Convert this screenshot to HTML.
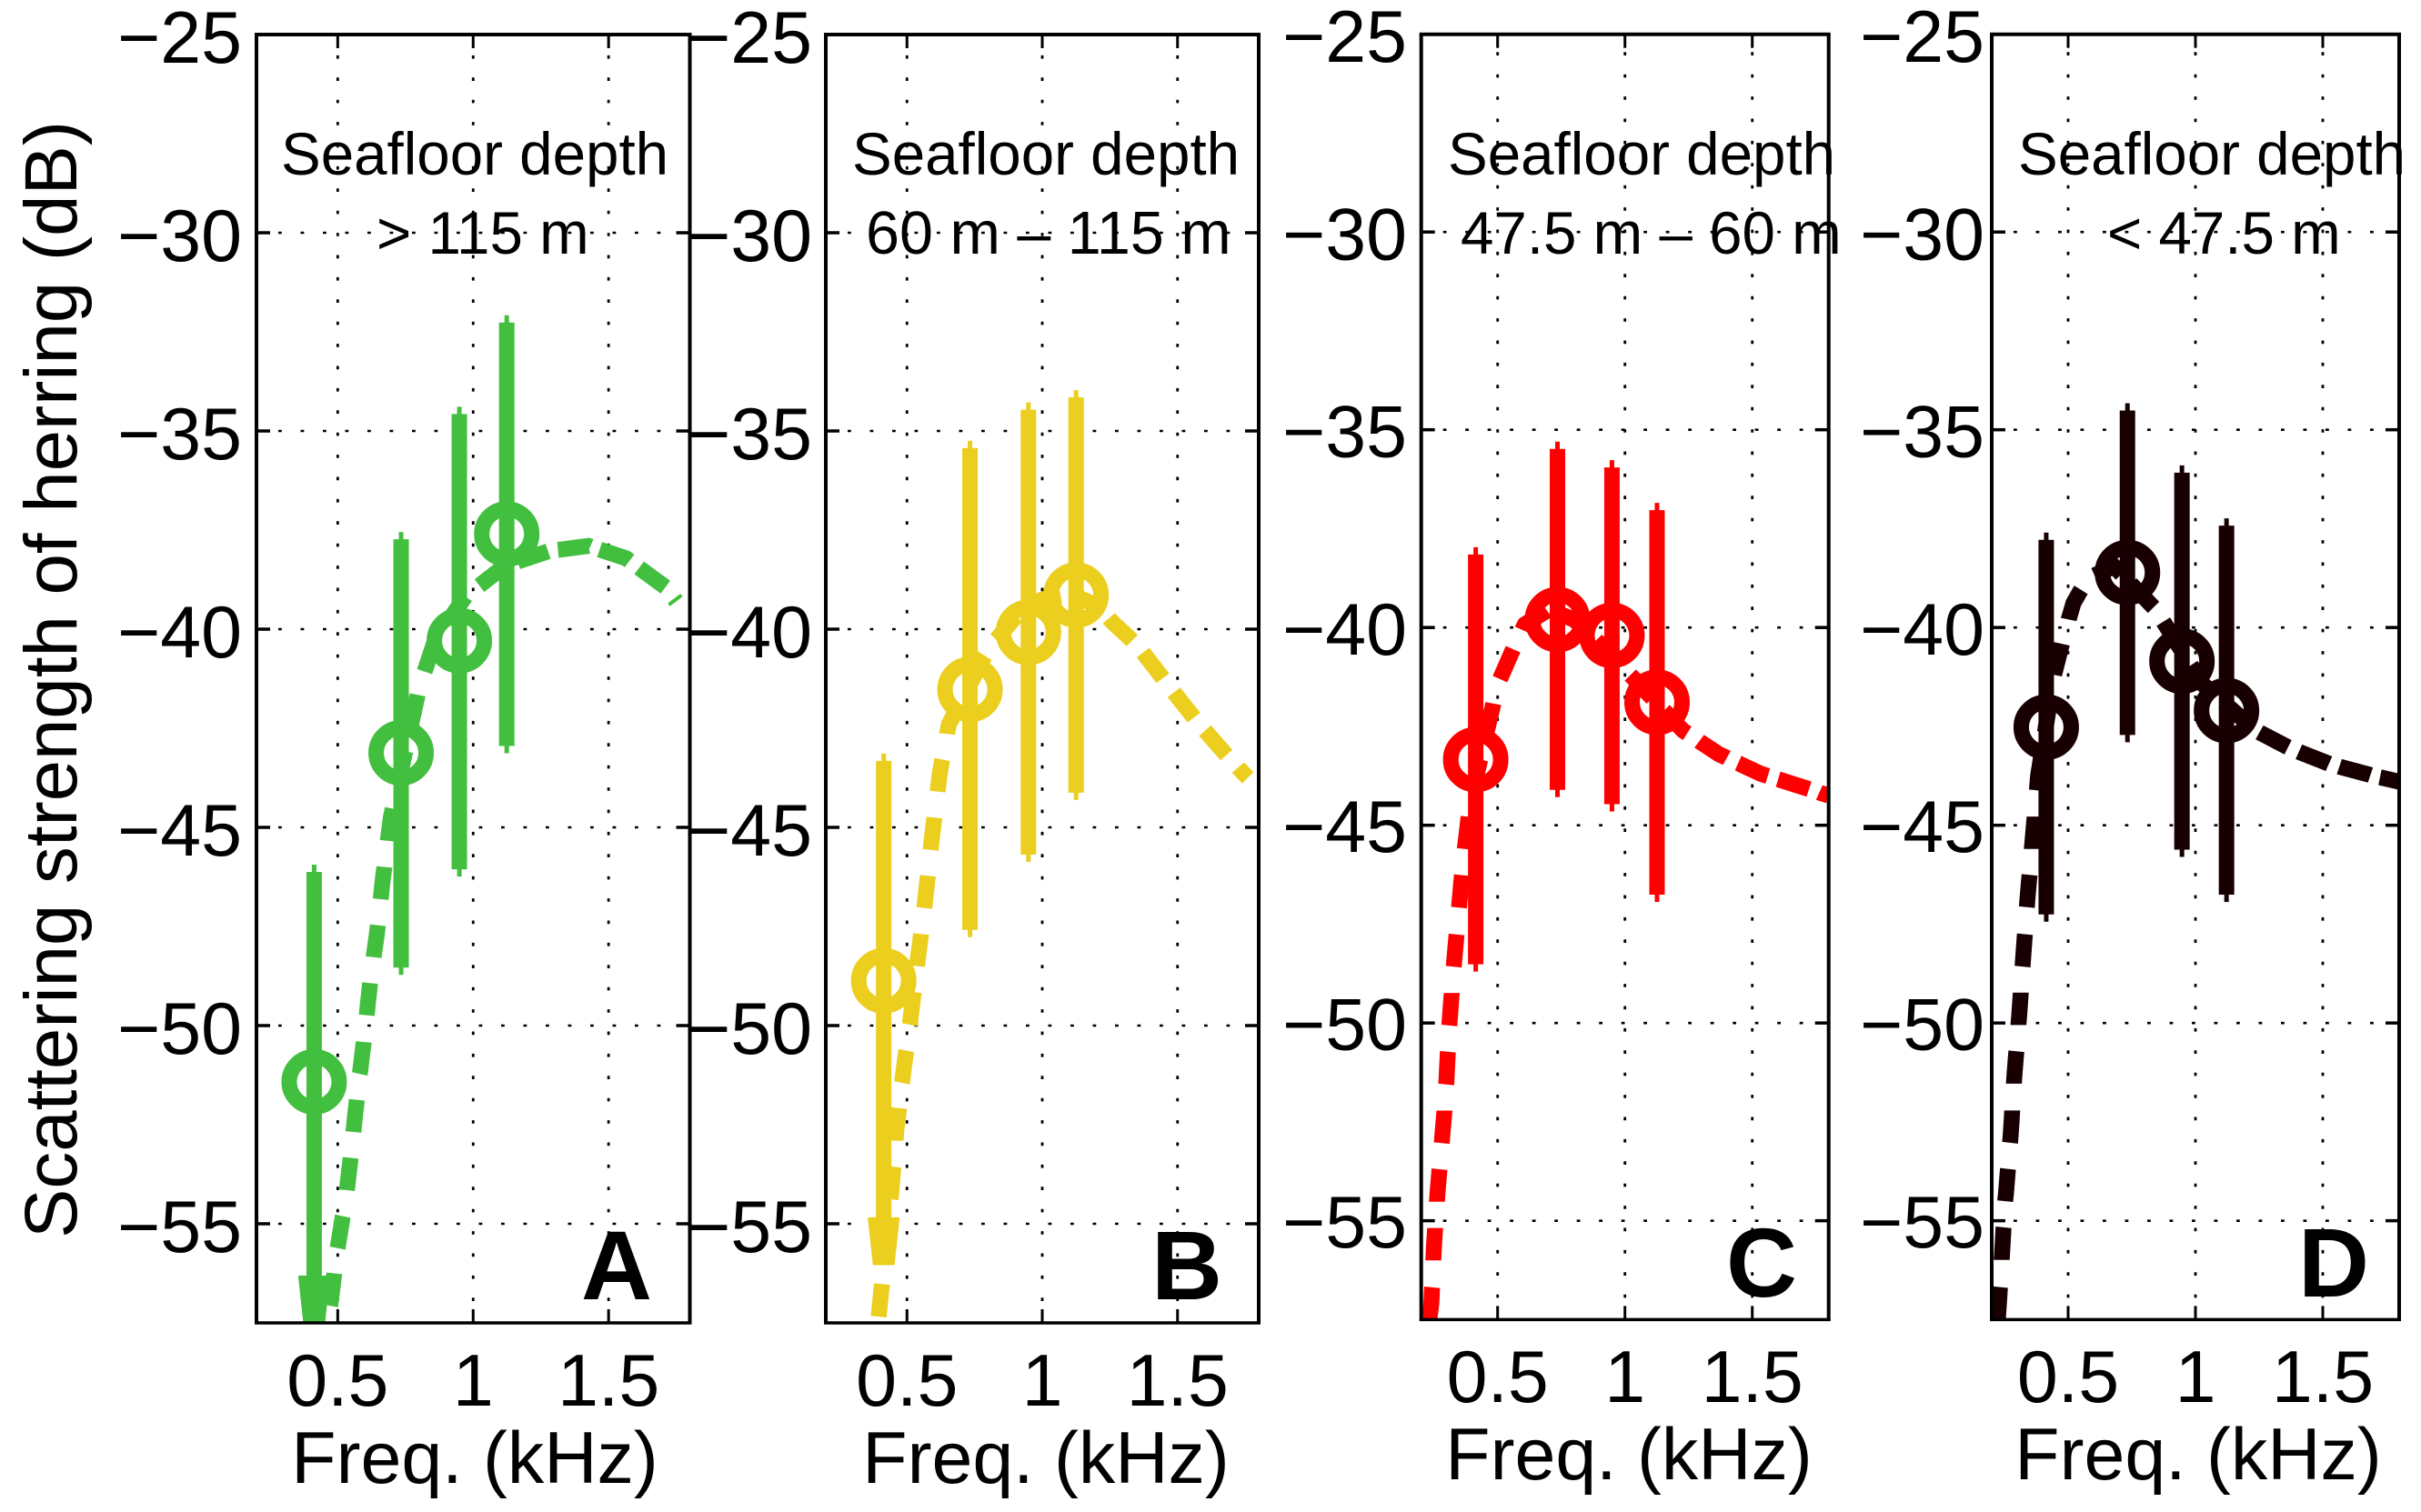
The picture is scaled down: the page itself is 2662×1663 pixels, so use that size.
<!DOCTYPE html>
<html lang="en">
<head>
<meta charset="utf-8">
<title>Scattering strength of herring by seafloor depth</title>
<style>
  html, body { margin: 0; padding: 0; background: #fff; }
  svg { display: block; }
  text { font-family: "Liberation Sans", sans-serif; fill: #000; }
  .tick { font-size: 80.7px; }
  .note { font-size: 65.5px; }
  .letter { font-size: 108px; font-weight: bold; }
</style>
</head>
<body>
<svg id="figure" xmlns="http://www.w3.org/2000/svg" width="2662" height="1663" viewBox="0 0 2662 1663">
  <rect width="2662" height="1663" fill="#fff"/>
  <g id="panels"></g>
  <text class="tick" style="font-size:81.6px" transform="translate(84 1362) rotate(-90)">Scattering strength of herring (dB)</text>

  <text class="tick" text-anchor="middle" x="522" y="1631">Freq. (kHz)</text>
  <text class="tick" text-anchor="middle" x="1150" y="1631">Freq. (kHz)</text>
  <text class="tick" text-anchor="middle" x="1791" y="1627">Freq. (kHz)</text>
  <text class="tick" text-anchor="middle" x="2417" y="1627">Freq. (kHz)</text>

  <text class="note" x="309" y="192">Seafloor depth</text>
  <text class="note" x="414" y="279">&gt; 115 m</text>
  <text class="note" x="937" y="192">Seafloor depth</text>
  <text class="note" style="font-size:66.5px" x="952" y="279">60 m – 115 m</text>
  <text class="note" x="1592" y="192">Seafloor depth</text>
  <text class="note" x="1606" y="279">47.5 m – 60 m</text>
  <text class="note" x="2219" y="192">Seafloor depth</text>
  <text class="note" x="2317" y="279">&lt; 47.5 m</text>

  <text class="letter" x="639" y="1429">A</text>
  <text class="letter" x="1266" y="1429">B</text>
  <text class="letter" x="1898" y="1426">C</text>
  <text class="letter" x="2527" y="1426">D</text>
</svg>

<script>
// ---- Shared axis values ----
const yTickValues = [-25, -30, -35, -40, -45, -50, -55];
const xTickValues = [0.5, 1, 1.5];
const xTickLabels = ['0.5', '1', '1.5'];
const yLimits = [-57.5, -25];
const xLimits = [0.2, 1.8];

// ---- Panel A (> 115 m) ----
const freqA = [0.413, 0.734, 0.949, 1.124];
const meanA = [-51.42, -43.12, -40.29, -37.6];
const upperA = [-45.94, -37.55, -34.39, -32.08];
const lowerA = [-56.33, -48.72, -46.24, -43.13];
const curveFreqA = [0.464, 0.4985, 0.533, 0.55, 0.572, 0.598, 0.622, 0.645, 0.667, 0.696, 0.8, 0.859, 0.971, 1.117, 1.28, 1.426, 1.564, 1.71, 1.75];
const curveDbA = [-57.5, -55.66, -54.2, -53.2, -51.76, -50.3, -48.77, -47.67, -46.27, -44.75, -41.5, -40.28, -39.18, -38.4, -38.03, -37.9, -38.21, -38.94, -39.3];
const arrowEndA = -57.5;

// ---- Panel B (60 m - 115 m) ----
const freqB = [0.414, 0.733, 0.949, 1.125];
const meanB = [-48.87, -41.52, -40.08, -39.14];
const upperB = [-43.14, -35.25, -34.28, -33.97];
const lowerB = [-54.86, -47.77, -45.87, -44.31];
const curveFreqB = [0.393, 0.442, 0.461, 0.487, 0.51, 0.537, 0.563, 0.594, 0.622, 0.655, 0.802, 0.9, 1.0, 1.1, 1.2, 1.262, 1.352, 1.464, 1.571, 1.694, 1.76];
const curveDbB = [-57.5, -54.2, -52.63, -51.15, -50.0, -48.5, -47.1, -45.16, -43.6, -42.4, -40.49, -39.7, -39.25, -39.1, -39.4, -39.84, -40.41, -41.4, -42.32, -43.28, -43.75];
const arrowEndB = -56.02;

// ---- Panel C (47.5 m - 60 m) ----
const freqC = [0.414, 0.735, 0.949, 1.126];
const meanC = [-43.34, -39.8, -40.2, -41.89];
const upperC = [-37.97, -35.3, -35.77, -36.85];
const lowerC = [-48.7, -44.29, -44.65, -46.94];
const curveFreqC = [0.232, 0.24, 0.25, 0.264, 0.296, 0.308, 0.326, 0.345, 0.362, 0.393, 0.502, 0.572, 0.607, 0.7, 0.8, 0.9, 1.036, 1.227, 1.368, 1.534, 1.696, 1.8];
const curveDbC = [-57.5, -57.07, -55.64, -54.29, -51.85, -50.27, -48.69, -47.31, -46.1, -44.4, -41.41, -40.38, -39.92, -39.55, -39.8, -40.4, -41.3, -42.6, -43.2, -43.7, -44.03, -44.25];

// ---- Panel D (< 47.5 m) ----
const freqD = [0.414, 0.733, 0.947, 1.122];
const meanD = [-42.52, -38.61, -40.85, -42.1];
const upperD = [-37.6, -34.33, -35.9, -37.24];
const lowerD = [-47.44, -42.9, -45.8, -46.94];
const curveFreqD = [0.224, 0.238, 0.251, 0.256, 0.275, 0.289, 0.308, 0.324, 0.341, 0.362, 0.382, 0.444, 0.486, 0.521, 0.575, 0.68, 0.843, 1.03, 1.236, 1.373, 1.531, 1.694, 1.8];
const curveDbD = [-57.5, -56.13, -54.64, -54.3, -52.78, -51.33, -49.8, -48.3, -46.8, -45.26, -43.75, -41.22, -40.15, -39.38, -38.77, -38.45, -39.54, -41.44, -42.6, -43.06, -43.46, -43.74, -43.9];

const SVG_NS = 'http://www.w3.org/2000/svg';

// Draws one graphic element; names are set by the callers.
function make(parent, tag, props) {
  const el = document.createElementNS(SVG_NS, tag);
  for (const key of Object.keys(props)) {
    el.setAttribute(key, props[key]);
  }
  parent.appendChild(el);
  return el;
}

// Emits dash sub-paths along the curve: constant dash length,
// repeat period that depends on the direction of travel.
function dashedPath(points, phaseStart) {
  const dashLen = 35, periodH = 46, periodV = 65;
  let d = '';
  let phase = phaseStart;
  let remaining = 0;
  let penDown = false;
  for (let i = 0; i < points.length - 1; i++) {
    const a = points[i], b = points[i + 1];
    const n = Math.max(1, Math.ceil(Math.hypot(b[0] - a[0], b[1] - a[1])));
    for (let s = 0; s < n; s++) {
      const x1 = a[0] + (b[0] - a[0]) * s / n;
      const y1 = a[1] + (b[1] - a[1]) * s / n;
      const x2 = a[0] + (b[0] - a[0]) * (s + 1) / n;
      const y2 = a[1] + (b[1] - a[1]) * (s + 1) / n;
      const dx = x2 - x1, dy = y2 - y1;
      if (phase >= 1) {
        phase -= 1;
        remaining = dashLen;
      }
      if (remaining > 0) {
        if (!penDown) {
          d += 'M' + x1.toFixed(1) + ' ' + y1.toFixed(1);
          penDown = true;
        }
        d += 'L' + x2.toFixed(1) + ' ' + y2.toFixed(1);
        remaining -= Math.hypot(dx, dy);
      } else {
        penDown = false;
      }
      phase += Math.hypot(dx / periodH, dy / periodV);
    }
  }
  return d;
}

const panels = [
  { key: 'a', color: '#43bf40', left: 282, right: 758.5, top: 38, bottom: 1455,
    freq: freqA, mean: meanA, upper: upperA, lower: lowerA, curveFreq: curveFreqA, curveDb: curveDbA, arrowEnd: arrowEndA,
    labelRight: 266, labelBase: 69, labelStep: 218, xLabelBase: 1546, phase: 0.72 },
  { key: 'b', color: '#ebce1e', left: 908, right: 1384, top: 38, bottom: 1455,
    freq: freqB, mean: meanB, upper: upperB, lower: lowerB, curveFreq: curveFreqB, curveDb: curveDbB, arrowEnd: arrowEndB,
    labelRight: 893, labelBase: 69, labelStep: 218, xLabelBase: 1546, phase: 0.9 },
  { key: 'c', color: '#ff0000', left: 1562.7, right: 2010.7, top: 37.7, bottom: 1451.4,
    freq: freqC, mean: meanC, upper: upperC, lower: lowerC, curveFreq: curveFreqC, curveDb: curveDbC, arrowEnd: null,
    labelRight: 1547, labelBase: 68, labelStep: 217.3, xLabelBase: 1542, phase: 1 },
  { key: 'd', color: '#180002', left: 2190, right: 2638, top: 37.7, bottom: 1451.4,
    freq: freqD, mean: meanD, upper: upperD, lower: lowerD, curveFreq: curveFreqD, curveDb: curveDbD, arrowEnd: null,
    labelRight: 2182, labelBase: 68, labelStep: 217.3, xLabelBase: 1542, phase: 1 }
];

const root = document.getElementById('panels');
const defs = make(root, 'defs', {});

for (const p of panels) {
  const xAt = f => p.left + (f - xLimits[0]) / (xLimits[1] - xLimits[0]) * (p.right - p.left);
  const yAt = v => p.top + (yLimits[1] - v) / (yLimits[1] - yLimits[0]) * (p.bottom - p.top);

  const g = make(root, 'g', {});
  
  

  const clip = make(defs, 'clipPath', { id: 'clip-' + p.key });
  make(clip, 'rect', { x: p.left, y: p.top, width: p.right - p.left, height: p.bottom - p.top });

  // Grid
  for (const v of yTickValues.slice(1)) {
    const line = make(g, 'line', { x1: p.left + 24, x2: p.right, y1: yAt(v), y2: yAt(v), stroke: '#000', 'stroke-width': 2.6, 'stroke-dasharray': '3.8 20.7' });
    
    
  }
  for (const t of xTickValues) {
    const line = make(g, 'line', { x1: xAt(t), x2: xAt(t), y1: p.bottom - 24, y2: p.top, stroke: '#000', 'stroke-width': 2.8, 'stroke-dasharray': '3.7 20.7' });
    
    
  }

  // Y ticks and labels
  yTickValues.forEach((v, i) => {
    if (i > 0) {
      const tl = make(g, 'line', { x1: p.left, x2: p.left + 15, y1: yAt(v), y2: yAt(v), stroke: '#000', 'stroke-width': 3.5 });
      
      
      const tr = make(g, 'line', { x1: p.right - 15, x2: p.right, y1: yAt(v), y2: yAt(v), stroke: '#000', 'stroke-width': 3.5 });
      
      
    }
    const label = make(g, 'text', { class: 'tick', 'text-anchor': 'end', x: p.labelRight, y: p.labelBase + i * p.labelStep });
    label.textContent = '\u2212' + Math.abs(v);
    
    
  });

  // X ticks and labels
  xTickValues.forEach((t, i) => {
    const tb = make(g, 'line', { x1: xAt(t), x2: xAt(t), y1: p.bottom - 15, y2: p.bottom, stroke: '#000', 'stroke-width': 3 });
    
    
    const tt = make(g, 'line', { x1: xAt(t), x2: xAt(t), y1: p.top, y2: p.top + 15, stroke: '#000', 'stroke-width': 3 });
    
    
    const label = make(g, 'text', { class: 'tick', 'text-anchor': 'middle', x: xAt(t), y: p.xLabelBase });
    label.textContent = xTickLabels[i];
    
    
  });

  const marks = make(g, 'g', { 'clip-path': 'url(#clip-' + p.key + ')' });
  
  

  // Fitted curve
  const pts = p.curveFreq.map((f, i) => [xAt(f), yAt(p.curveDb[i])]);
  const curve = make(marks, 'path', { d: dashedPath(pts, p.phase), fill: 'none', stroke: p.color, 'stroke-width': 17.5 });
  
  

  // Error bars and mean markers
  p.freq.forEach((f, i) => {
    const hasArrow = i === 0 && p.arrowEnd !== null;
    const x = xAt(f);
    const yUp = yAt(p.upper[i]);
    const yLow = yAt(p.lower[i]);
    const bar = make(marks, 'line', { x1: x, x2: x, y1: yUp + 8, y2: hasArrow ? yLow + 2 : yLow - 8, stroke: p.color, 'stroke-width': 17 });
    
    
    const cap = make(marks, 'line', { x1: x, x2: x, y1: yUp, y2: yLow, stroke: p.color, 'stroke-width': 5 });
    
    
    if (hasArrow) {
      const yEnd = yAt(p.arrowEnd);
      const tip = make(marks, 'polygon', {
        points: [[x - 16.5, yLow], [x + 16.5, yLow], [x + 11, yEnd], [x - 11, yEnd]].map(c => c.join(',')).join(' '),
        fill: p.color, stroke: p.color, 'stroke-width': 2, 'stroke-linejoin': 'round'
      });
      
      
    }
    const dot = make(marks, 'circle', { cx: x, cy: yAt(p.mean[i]), r: 27.5, fill: 'none', stroke: p.color, 'stroke-width': 17 });
    
    
  });

  // Axes box
  const boxTop = make(g, 'line', { x1: p.left - 2, x2: p.right + 2, y1: p.top, y2: p.top, stroke: '#000', 'stroke-width': 4 });
  
  
  const boxBottom = make(g, 'line', { x1: p.left - 2, x2: p.right + 2, y1: p.bottom, y2: p.bottom, stroke: '#000', 'stroke-width': 3.5 });
  
  
  const boxLeft = make(g, 'line', { x1: p.left, x2: p.left, y1: p.top, y2: p.bottom, stroke: '#000', 'stroke-width': 4 });
  
  
  const boxRight = make(g, 'line', { x1: p.right, x2: p.right, y1: p.top, y2: p.bottom, stroke: '#000', 'stroke-width': 4 });
  
  
}
</script>
</body>
</html>
